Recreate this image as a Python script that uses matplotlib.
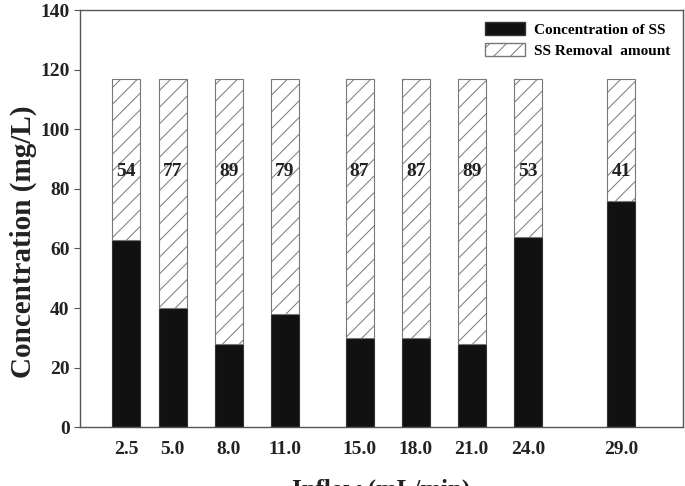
import matplotlib
matplotlib.use("Agg")
import matplotlib.pyplot as plt
from matplotlib.patches import Patch

inflow = [2.5, 5.0, 8.0, 11.0, 15.0, 18.0, 21.0, 24.0, 29.0]
tick_labels = ["2.5", "5.0", "8.0", "11.0", "15.0", "18.0", "21.0", "24.0", "29.0"]
conc_ss = [63, 40, 28, 38, 30, 30, 28, 64, 76]
removal = [54, 77, 89, 79, 87, 87, 89, 53, 41]
influent = [117] * 9
label_y = 86

plt.rcParams.update({
    "font.family": "Liberation Serif",
    "font.weight": "bold",
    "hatch.color": "#555555",
    "hatch.linewidth": 0.7,
})

fig = plt.figure(figsize=(6.85, 4.86), dpi=100)
ax = fig.add_axes([0.117, 0.121, 0.880, 0.858])

w = 1.5
top = [t - c for t, c in zip(influent, conc_ss)]
ax.bar(inflow, conc_ss, w, color="#111111", edgecolor="#333333", linewidth=0.8)
ax.bar(inflow, top, w, bottom=conc_ss, color="white", edgecolor="#777777",
       hatch="//", linewidth=0.8)

for x, r in zip(inflow, removal):
    ax.text(x, label_y, str(r), ha="center", va="center", fontsize=14,
            fontweight="bold", color="#222222")

ax.set_xlim(0.05, 32.3)
ax.set_ylim(0, 140)
ax.set_yticks(range(0, 141, 20))
ax.set_xticks(inflow)
ax.set_xticklabels(tick_labels)
ax.tick_params(axis="x", length=0, labelsize=14, pad=10, labelcolor="#222222")
ax.tick_params(axis="y", direction="out", length=4, labelsize=14, color="#555555",
               labelcolor="#222222")
for s in ax.spines.values():
    s.set_color("#555555")
    s.set_linewidth(1.0)

ax.set_ylabel("Concentration (mg/L)", fontsize=21, fontweight="bold", color="#222222")
ax.yaxis.set_label_coords(-0.072, 0.444)
ax.set_xlabel("Inflow (mL/min)", fontsize=18, fontweight="bold", labelpad=15,
              color="#222222")

handles = [Patch(facecolor="#111111", edgecolor="#333333"),
           Patch(facecolor="white", edgecolor="#777777", hatch="//")]
ax.legend(handles, ["Concentration of SS", "SS Removal  amount"], loc="upper right",
          frameon=False, prop={"size": 11, "weight": "bold"}, handlelength=2.6,
          handleheight=0.9, labelspacing=0.4, borderaxespad=0.4, handletextpad=0.6)

fig.savefig("out.png", dpi=100)
